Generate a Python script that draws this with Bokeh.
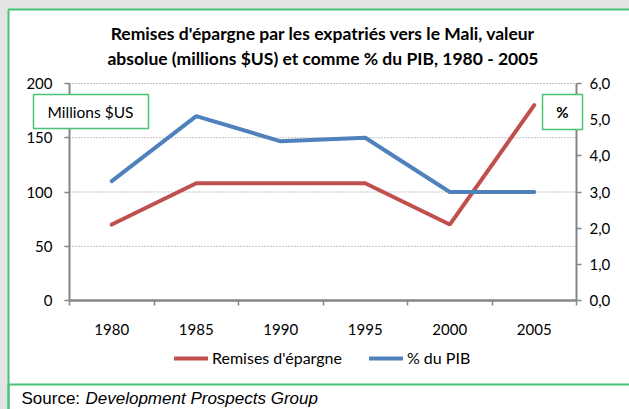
from bokeh.plotting import figure
from bokeh.models import (Range1d, LinearAxis, FixedTicker, Label, BoxAnnotation,
                          Legend, LegendItem)
from bokeh.embed import file_html
from bokeh.resources import INLINE

# ---- data ----
years = ["1980", "1985", "1990", "1995", "2000", "2005"]
remises = [70, 108, 108, 108, 70, 180]
pct_pib = [3.3, 5.1, 4.4, 4.5, 3.0, 3.0]
left_ticks = [0, 50, 100, 150, 200]
right_ticks = [0, 1, 2, 3, 4, 5, 6]
right_tick_labels = ["0,0", "1,0", "2,0", "3,0", "4,0", "5,0", "6,0"]
title_lines = ["Remises d'épargne par les expatriés vers le Mali, valeur",
               "absolue (millions $US) et comme % du PIB, 1980 - 2005"]
series_names = ["Remises d'épargne", "% du PIB"]
unit_labels = ["Millions $US", "%"]
source_prefix = "Source:"
source_name = "Development  Prospects Group"

# ---- layout (canvas pixels) ----
W, H = 629, 409
AX_L, AX_R, AX_T, AX_B = 69, 576, 83, 300   # plot area edges
NX = len(years)
YMAX = 200
PMAX = 6
PXX = (AX_R - AX_L) / NX
PXY = (AX_B - AX_T) / YMAX
PXP = (AX_B - AX_T) / PMAX


def X(px):
    return (px - AX_L) / PXX


def Y(py):
    return (AX_B - py) / PXY


GREEN = "#45c476"
GREY = "#868686"
RED = "#c0504d"
BLUE = "#4f81bd"
BG = "#e4e4e4"
FONT = "Lato"

xs = [i + 0.5 for i in range(NX)]

p = figure(width=W, height=H, output_backend="svg", toolbar_location=None,
           x_range=Range1d(X(0), X(W)), y_range=Range1d(Y(H), Y(0)), title=None,
           x_axis_location=None, y_axis_location=None,
           min_border=0, min_border_left=0, min_border_right=0,
           min_border_top=0, min_border_bottom=0,
           background_fill_color=BG, border_fill_color=BG)
p.outline_line_color = None
p.extra_y_ranges = {"pct": Range1d((AX_B - H) / PXP, AX_B / PXP)}
p.xgrid.visible = False
p.ygrid.visible = False

# white chart box with green border
p.add_layout(BoxAnnotation(left=X(8), right=X(W + 20), top=Y(9), bottom=Y(H + 20),
                           fill_color="white", fill_alpha=1, line_color=GREEN,
                           line_alpha=1, line_width=2, level="underlay"))
p.add_layout(BoxAnnotation(left=X(8), right=X(W + 20), top=Y(384), bottom=Y(H + 20),
                           fill_alpha=0, line_color=GREEN, line_alpha=1,
                           line_width=2, level="underlay"))

# gridlines
p.segment(x0=[0] * 4, x1=[NX] * 4, y0=left_ticks[1:], y1=left_ticks[1:],
          line_color=GREY, line_dash="1 2", line_width=1)

# axes
xa = LinearAxis(fixed_location=0, bounds=(0, NX),
                ticker=FixedTicker(ticks=xs, minor_ticks=list(range(NX + 1))))
xa.major_label_overrides = {x: y for x, y in zip(xs, years)}
xa.major_tick_line_color = None
xa.major_tick_out = 0
xa.major_tick_in = 0
xa.minor_tick_line_color = GREY
xa.minor_tick_line_width = 1.5
xa.minor_tick_out = 5
xa.minor_tick_in = 0
xa.axis_line_color = GREY
xa.axis_line_width = 2.5
xa.major_label_standoff = 18
xa.major_label_text_font = FONT
xa.major_label_text_font_size = "15px"
xa.major_label_text_color = "#000000"
p.add_layout(xa, "below")

ya = LinearAxis(fixed_location=0, bounds=(0, YMAX),
                ticker=FixedTicker(ticks=left_ticks, minor_ticks=[]))
ya.major_tick_line_color = GREY
ya.major_tick_line_width = 1.5
ya.major_tick_out = 5
ya.major_tick_in = 0
ya.minor_tick_line_color = None
ya.axis_line_color = GREY
ya.axis_line_width = 2
ya.major_label_standoff = 12
ya.major_label_text_font = FONT
ya.major_label_text_font_size = "15px"
ya.major_label_text_color = "#000000"
p.add_layout(ya, "left")

ra = LinearAxis(y_range_name="pct", fixed_location=NX, bounds=(0, PMAX),
                ticker=FixedTicker(ticks=right_ticks, minor_ticks=[]))
ra.major_label_overrides = {t: l for t, l in zip(right_ticks, right_tick_labels)}
ra.major_tick_line_color = GREY
ra.major_tick_line_width = 1.5
ra.major_tick_out = 5
ra.major_tick_in = 0
ra.minor_tick_line_color = None
ra.axis_line_color = GREY
ra.axis_line_width = 2
ra.major_label_standoff = 8
ra.major_label_text_font = FONT
ra.major_label_text_font_size = "15px"
ra.major_label_text_color = "#000000"
p.add_layout(ra, "right")

# series
r1 = p.line(xs, remises, line_color=RED, line_width=4, line_cap="round")
r2 = p.line(xs, pct_pib, y_range_name="pct", line_color=BLUE, line_width=4,
            line_cap="round")

legend = Legend(items=[LegendItem(label=series_names[0], renderers=[r1]),
                       LegendItem(label=series_names[1], renderers=[r2])],
                orientation="horizontal", location=(174, H - 367.5),
                glyph_width=34, glyph_height=20, label_height=20,
                label_standoff=4, spacing=27, padding=0, margin=0,
                border_line_color=None, background_fill_alpha=0,
                label_text_font=FONT, label_text_font_size="16px",
                label_text_color="#000000")
p.add_layout(legend)

# titles
for line, py in zip(title_lines, [33, 58]):
    p.add_layout(Label(x=X((AX_L + AX_R) / 2), y=Y(py), text=line,
                       text_align="center", text_baseline="middle",
                       text_font=FONT, text_font_style="bold",
                       text_font_size="17.5px", text_color="#000000"))

# unit boxes
p.add_layout(BoxAnnotation(left=X(33), right=X(148), top=Y(94), bottom=Y(128),
                           fill_color="white", fill_alpha=1, line_color=GREEN,
                           line_alpha=1, line_width=1.5))
p.add_layout(Label(x=X(90), y=Y(111), text=unit_labels[0], text_align="center",
                   text_baseline="middle", text_font=FONT, text_font_size="15.5px",
                   text_color="#000000"))
p.add_layout(BoxAnnotation(left=X(542), right=X(582), top=Y(94), bottom=Y(129),
                           fill_color="white", fill_alpha=1, line_color=GREEN,
                           line_alpha=1, line_width=1.5))
p.add_layout(Label(x=X(562), y=Y(111.5), text=unit_labels[1], text_align="center",
                   text_baseline="middle", text_font=FONT, text_font_style="bold",
                   text_font_size="15px", text_color="#000000"))

# source
p.add_layout(Label(x=X(21), y=Y(397.5), text=source_prefix, text_align="left",
                   text_baseline="middle", text_font="Liberation Sans",
                   text_font_size="17px", text_color="#000000"))
p.add_layout(Label(x=X(85), y=Y(397.5), text=source_name, text_align="left",
                   text_baseline="middle", text_font="Liberation Sans",
                   text_font_style="italic", text_font_size="17px",
                   text_color="#000000"))

html = file_html(p, INLINE)
html = html.replace("</head>",
                    "<style>html,body{background:%s;overflow:hidden;}</style></head>" % BG, 1)
open("out.html", "w").write(html)
